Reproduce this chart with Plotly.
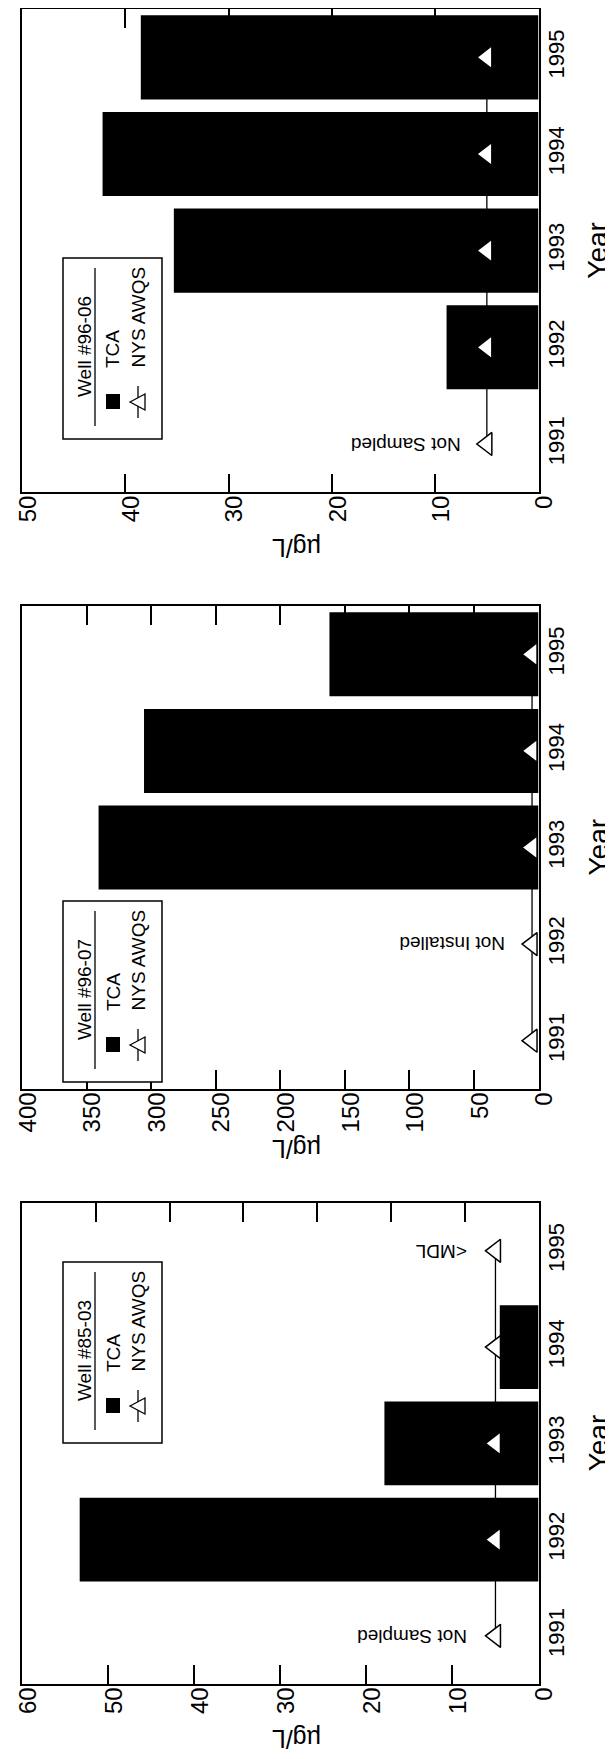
import plotly.graph_objects as go

# ---------------- data ----------------
years = ["1991", "1992", "1993", "1994", "1995"]
tca_96_06 = [None, 8.9, 35.3, 42.2, 38.5]
tca_96_07 = [None, None, 340.7, 305.5, 161.9]
tca_85_03 = [None, 53.3, 17.9, 4.5, None]
awqs = [5, 5, 5, 5, 5]

wells = ["Well #96-06", "Well #96-07", "Well #85-03"]
value_max = [50, 400, 60]
value_step = [10, 50, 10]
notes_96_06 = [("1991", "Not Sampled")]
notes_96_07 = [("1992", "Not Installed")]
notes_85_03 = [("1991", "Not Sampled"), ("1995", "<MDL")]

# ---------------- layout helpers ----------------
W, H = 613, 1759
OFF = 8  # page body margin
FONT = "Liberation Sans Narrow, Arial Narrow, Liberation Sans, Arial, sans-serif"


def px(x):
    return (x - OFF) / W


def py(y):
    return 1 - (y - OFF) / H


panel_left, panel_right = 22, 538.5
panels = [
    dict(vals=tca_96_06, top=9, bottom=492.3, leg_top=258, notes=notes_96_06,
         note_shift=-24, title_gap=55),
    dict(vals=tca_96_07, top=606, bottom=1089, leg_top=901, notes=notes_96_07,
         note_shift=-25, title_gap=60),
    dict(vals=tca_85_03, top=1202.7, bottom=1684, leg_top=1262, notes=notes_85_03,
         note_shift=-27, title_gap=55),
]

fig = go.Figure()
shapes = []
annotations = []

for i, p in enumerate(panels):
    n = i + 1
    xa = "x" if n == 1 else f"x{n}"
    ya = "y" if n == 1 else f"y{n}"
    xkey = "xaxis" if n == 1 else f"xaxis{n}"
    ykey = "yaxis" if n == 1 else f"yaxis{n}"

    fig.add_trace(go.Bar(
        x=p["vals"], y=years, orientation="h",
        marker=dict(color="black", line=dict(width=0)),
        width=0.87, xaxis=xa, yaxis=ya, showlegend=False, hoverinfo="skip",
    ))
    fig.add_trace(go.Scatter(
        x=awqs, y=years, mode="lines+markers",
        line=dict(color="black", width=1.3),
        marker=dict(symbol="triangle-left", size=20, color="white",
                    line=dict(color="black", width=1.5)),
        xaxis=xa, yaxis=ya, showlegend=False, hoverinfo="skip",
    ))

    vmax = value_max[i]
    fig.update_layout({
        xkey: dict(
            domain=[px(panel_left), px(panel_right)],
            range=[vmax, 0], tick0=0, dtick=value_step[i],
            ticks="inside", ticklen=19, tickwidth=1.5, tickcolor="black",
            showline=True, linecolor="black", linewidth=1.5,
            mirror="ticks" if n != 3 else True,
            showgrid=False, zeroline=False, anchor=ya, automargin=False,
            ticklabeloverflow="allow", ticklabelstandoff=-8, ticklabelshift=-6,
            tickangle=-90, tickfont=dict(family=FONT, size=24, color="black"),
            fixedrange=True,
        ),
        ykey: dict(
            domain=[py(p["bottom"]), py(p["top"])],
            type="category", categoryorder="array", categoryarray=years,
            range=[-0.5, 4.5], side="right", anchor=xa, automargin=False,
            ticklabeloverflow="allow", ticklabelstandoff=-3,
            showline=True, linecolor="black", linewidth=1.5, mirror=True,
            ticks="", showgrid=False, zeroline=False,
            tickangle=-90, tickfont=dict(family=FONT, size=22, color="black"),
            fixedrange=True,
        ),
    })

    # axis titles
    annotations.append(dict(
        text="Year", xref="paper", yref="paper",
        x=px(598), y=py((p["top"] + p["bottom"]) / 2),
        xanchor="center", yanchor="middle",
        showarrow=False, textangle=-90,
        font=dict(family=FONT, size=28, color="black"),
    ))
    annotations.append(dict(
        text="µg/L", xref="paper", yref="paper",
        x=px(297), y=py(p["bottom"] + p["title_gap"]),
        xanchor="center", yanchor="middle",
        showarrow=False, textangle=180,
        font=dict(family=FONT, size=25, color="black"),
    ))

    # data notes
    for yr, txt in p["notes"]:
        k = years.index(yr)
        annotations.append(dict(
            text=txt, xref=xa, yref=ya, x=awqs[k], y=k,
            xanchor="right", yanchor="middle", xshift=p["note_shift"],
            showarrow=False, textangle=180,
            font=dict(family=FONT, size=19, color="black"),
        ))

    # legend (drawn manually, rotated)
    L, T = 63, p["leg_top"]
    R, B = 162, p["leg_top"] + 181
    shapes.append(dict(type="rect", xref="paper", yref="paper",
                       x0=px(L), x1=px(R), y0=py(B), y1=py(T),
                       line=dict(color="black", width=1.5), fillcolor="white", layer="above"))
    shapes.append(dict(type="line", xref="paper", yref="paper",
                       x0=px(L + 32), x1=px(L + 32), y0=py(T + 10), y1=py(T + 168),
                       line=dict(color="black", width=1.3), layer="above"))
    shapes.append(dict(type="rect", xref="paper", yref="paper",
                       x0=px(L + 43), x1=px(L + 57), y0=py(T + 151), y1=py(T + 136),
                       line=dict(color="black", width=0), fillcolor="black", layer="above"))
    annotations.append(dict(
        text=wells[i], xref="paper", yref="paper",
        x=px(L + 21), y=py(T + 89), xanchor="center", yanchor="middle",
        showarrow=False, textangle=-90,
        font=dict(family=FONT, size=19, color="black"),
    ))
    annotations.append(dict(
        text="TCA", xref="paper", yref="paper",
        x=px(L + 50), y=py(T + 112), xanchor="center", yanchor="bottom",
        showarrow=False, textangle=-90,
        font=dict(family=FONT, size=19, color="black"),
    ))
    annotations.append(dict(
        text="NYS AWQS", xref="paper", yref="paper",
        x=px(L + 75), y=py(T + 112), xanchor="center", yanchor="bottom",
        showarrow=False, textangle=-90,
        font=dict(family=FONT, size=19, color="black"),
    ))
    shapes.append(dict(type="line", xref="paper", yref="paper",
                       x0=px(L + 75), x1=px(L + 75), y0=py(T + 128), y1=py(T + 160),
                       line=dict(color="black", width=1.3), layer="above"))
    shapes.append(dict(type="path", xref="paper", yref="paper",
                       path=(f"M {px(L + 67)} {py(T + 144)} L {px(L + 82)} {py(T + 136)} "
                             f"L {px(L + 82)} {py(T + 152)} Z"),
                       line=dict(color="black", width=1.3), fillcolor="white", layer="above"))

# extra top ticks on the bottom panel (different spacing than the bottom axis)
fig.add_trace(go.Scatter(x=[], y=[], xaxis="x4", yaxis="y3", showlegend=False, hoverinfo="skip"))
fig.update_layout(xaxis4=dict(
    overlaying="x3", side="top", anchor="y3", automargin=False,
    range=[value_max[2], 0], tick0=0, dtick=value_max[2] / 7,
    ticks="inside", ticklen=19, tickwidth=1.5, tickcolor="black",
    showticklabels=False, showline=False, showgrid=False, zeroline=False,
    fixedrange=True,
))

fig.update_layout(
    width=W, height=H, autosize=False,
    margin=dict(l=0, r=0, t=0, b=0, pad=0, autoexpand=False),
    paper_bgcolor="white", plot_bgcolor="white",
    shapes=shapes, annotations=annotations,
    bargap=0.13, showlegend=False,
    font=dict(family=FONT, color="black"),
)

fig.write_html("out.html")
